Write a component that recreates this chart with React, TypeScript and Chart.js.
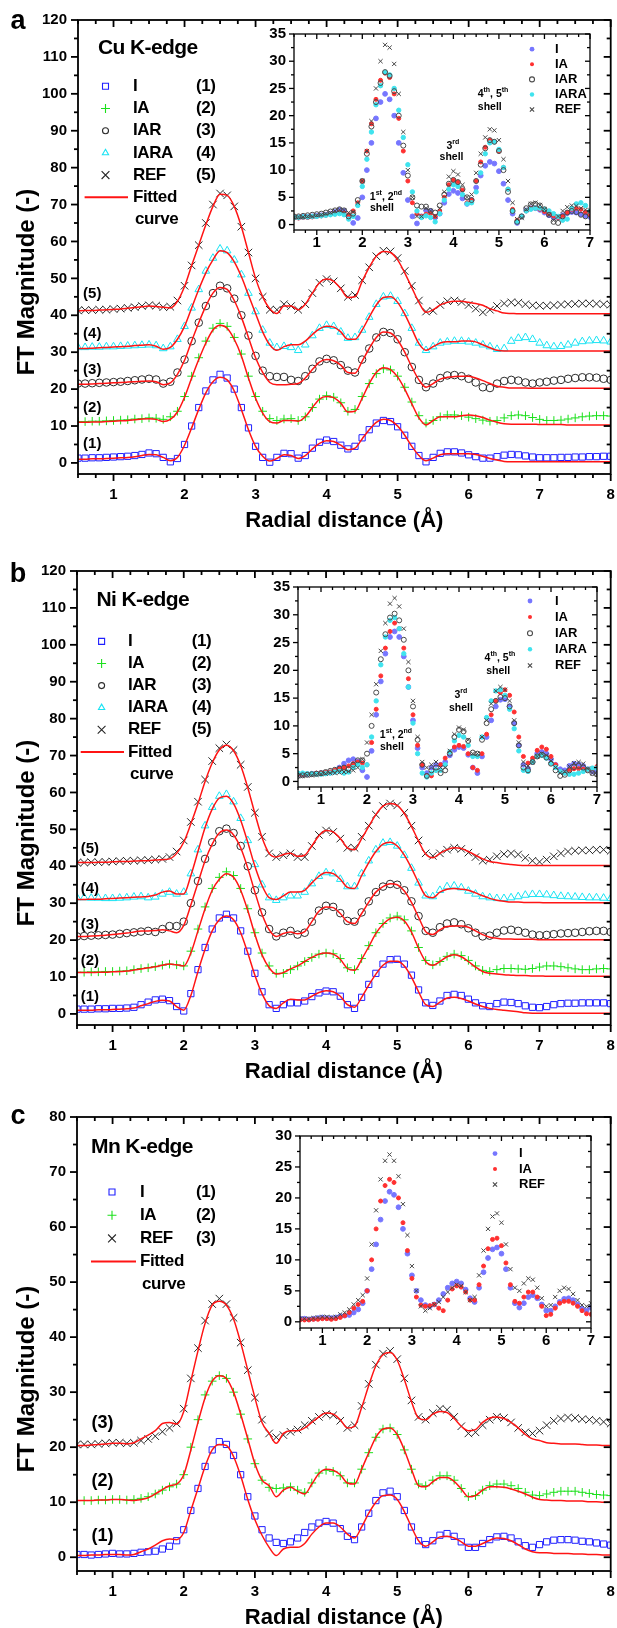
import React, { useEffect, useRef } from 'react';
import { Chart, registerables } from 'chart.js';
Chart.register(...registerables);

const FONT = '"Liberation Sans", Arial, Helvetica, sans-serif';

// ---------- data (x grid in Å) ----------
const X_GRID = [0.5,0.6,0.7,0.8,0.9,1.0,1.1,1.2,1.3,1.4,1.5,1.6,1.7,1.8,1.9,2.0,2.1,2.2,2.3,2.4,2.5,2.6,2.7,2.8,2.9,3.0,3.1,3.2,3.3,3.4,3.5,3.6,3.7,3.8,3.9,4.0,4.1,4.2,4.3,4.4,4.5,4.6,4.7,4.8,4.9,5.0,5.1,5.2,5.3,5.4,5.5,5.6,5.7,5.8,5.9,6.0,6.1,6.2,6.3,6.4,6.5,6.6,6.7,6.8,6.9,7.0,7.1,7.2,7.3,7.4,7.5,7.6,7.7,7.8,7.9,8.0];

// Cu K-edge
const CU_I = [1.3,1.3,1.4,1.4,1.5,1.6,1.7,1.8,2.0,2.3, 2.7,2.5,1.5,0.3,1.2,5.0,10.0,15.0,19.5,22.5, 24.0,23.0,20.0,15.0,9.5,4.5,1.5,0.2,1.5,2.6, 2.5,1.3,2.0,4.0,5.6,6.2,5.8,4.8,3.8,4.5, 6.8,9.0,10.8,11.5,11.2,9.8,7.5,4.5,2.0,0.3, 1.5,2.6,3.0,3.0,2.7,2.2,1.7,1.3,1.3,1.7, 2.1,2.3,2.2,1.9,1.6,1.4,1.4,1.4,1.5,1.5, 1.6,1.6,1.7,1.7,1.8,1.8];
const CU_I_FIT = [1.0,1.0,1.1,1.1,1.2,1.3,1.4,1.5,1.7,2.0, 2.3,2.2,1.5,0.6,1.5,4.8,9.5,14.5,19.0,22.0, 23.2,22.5,19.5,14.5,9.0,4.5,1.8,0.5,1.2,2.2, 2.0,1.2,2.0,3.8,5.3,6.0,5.8,4.8,3.6,4.0, 6.5,9.0,11.0,11.8,11.5,10.0,7.5,4.5,2.0,0.6, 1.3,2.2,2.5,2.5,2.5,2.5,2.3,1.8,1.2,0.8, 0.4,0.3,0.3,0.3,0.3,0.3,0.3,0.3,0.3,0.3, 0.3,0.3,0.3,0.3,0.3,0.3];
const CU_IA = [1.2,1.2,1.3,1.3,1.4,1.5,1.6,1.7,1.9,2.0, 2.2,2.1,1.8,2.5,4.0,8.0,13.5,18.5,23.0,26.5, 27.8,27.0,24.0,19.5,13.5,8.0,4.0,2.0,1.5,1.9, 2.0,1.5,2.5,5.0,7.3,8.2,7.8,6.3,4.0,4.5, 8.0,11.5,14.2,15.5,15.2,13.5,10.5,6.5,2.8,0.8, 1.5,2.5,3.0,3.0,2.8,2.4,2.0,1.6,1.3,1.5, 2.2,2.8,3.0,2.8,2.3,1.8,1.5,1.5,1.6,1.9, 2.2,2.5,2.7,2.8,2.8,2.7];
const CU_IA_FIT = [1.0,1.0,1.1,1.1,1.2,1.3,1.4,1.5,1.7,1.9, 2.0,1.8,1.2,1.8,3.8,7.8,13.0,18.0,22.5,26.0, 27.3,26.5,23.5,19.0,13.0,7.5,3.5,1.2,0.8,1.5, 1.5,1.3,2.5,5.0,7.3,8.0,7.7,6.2,3.8,4.0, 7.5,11.5,14.5,15.8,15.3,13.3,10.0,6.0,2.2,0.3, 1.5,2.5,2.5,2.5,2.8,3.0,2.8,2.3,1.6,1.0, 0.6,0.5,0.5,0.5,0.5,0.4,0.4,0.4,0.4,0.3, 0.3,0.3,0.3,0.3,0.3,0.3];
const CU_IAR = [1.5,1.5,1.6,1.7,1.8,1.9,2.0,2.2,2.4,2.6, 2.8,2.6,1.5,2.0,4.5,8.0,13.0,18.0,22.5,26.0, 28.0,27.3,24.5,20.0,14.5,9.0,5.0,3.5,3.3,3.3, 2.5,2.2,3.5,5.5,7.5,8.2,7.8,6.5,5.0,4.5, 8.0,11.0,14.0,15.5,15.2,13.5,10.0,6.0,2.5,0.5, 1.5,3.0,3.7,3.8,3.5,2.8,1.8,0.5,0.3,1.5, 2.2,2.5,2.3,1.8,1.5,1.8,2.0,2.3,2.5,2.8, 3.0,3.2,3.2,3.1,2.8,2.5];
const CU_IAR_FIT = [1.3,1.3,1.4,1.5,1.6,1.7,1.8,1.9,2.0,2.1, 2.2,2.0,1.2,1.7,4.0,7.8,13.0,18.0,22.5,26.0, 27.5,27.0,24.0,19.5,14.0,8.5,4.5,1.8,1.2,1.2, 1.3,1.5,3.0,5.3,7.3,8.0,7.7,6.5,4.5,4.3, 7.5,11.0,14.0,15.5,15.2,13.3,10.0,6.0,2.5,0.5, 1.5,2.7,3.2,3.4,3.5,3.5,3.0,2.3,1.5,0.8, 0.5,0.3,0.3,0.3,0.2,0.2,0.2,0.2,0.2,0.2, 0.2,0.2,0.2,0.2,0.2,0.2];
const CU_IARA = [1.3,1.3,1.4,1.4,1.5,1.5,1.6,1.7,1.8,1.9, 2.0,1.8,1.0,1.5,3.5,7.0,12.0,17.0,22.0,25.5, 28.0,27.5,25.0,21.0,16.0,11.0,6.0,2.5,1.3,1.6, 1.3,0.5,2.0,4.5,6.5,7.3,7.0,5.5,3.8,4.0, 6.0,9.5,13.0,15.0,15.2,13.8,10.5,6.5,2.5,0.5, 1.5,2.5,2.8,3.0,3.0,2.8,2.5,2.0,1.5,0.8, 1.0,3.0,3.8,4.0,3.5,2.5,1.8,1.5,1.6,2.0, 2.5,2.9,3.1,3.2,3.1,2.8];
const CU_IARA_FIT = [1.0,1.0,1.1,1.2,1.3,1.4,1.5,1.6,1.8,1.9, 2.0,1.6,0.8,1.3,3.5,7.0,12.0,17.0,21.5,25.0, 27.5,27.0,24.5,20.5,15.5,10.5,5.5,2.0,0.5,1.5, 2.0,2.0,3.0,4.8,6.3,7.0,6.8,5.5,3.5,3.5, 6.0,9.5,12.8,14.8,15.0,13.5,10.3,6.3,2.3,0.5, 1.5,2.5,2.8,2.8,3.0,3.0,2.8,2.0,1.2,0.5, 0.3,0.3,0.3,0.3,0.3,0.3,0.3,0.3,0.3,0.3, 0.3,0.3,0.3,0.3,0.3,0.3];
const CU_REF = [1.3,1.4,1.4,1.5,1.5,1.7,1.8,2.0,2.2,2.5, 2.7,2.6,2.2,2.3,4.0,8.0,13.5,19.0,25.0,30.0, 33.0,32.5,29.5,24.0,17.0,10.0,5.0,1.5,1.5,3.0, 2.5,1.5,3.0,6.0,8.8,9.8,9.2,7.3,5.0,5.5, 9.5,13.0,16.0,17.5,17.3,15.5,12.0,8.0,4.0,1.0, 1.2,2.8,3.8,4.0,3.6,2.8,1.8,0.8,1.5,2.5, 3.2,3.5,3.4,3.0,2.7,2.6,2.6,2.7,2.9,3.0, 3.1,3.2,3.2,3.1,3.0,2.9];
const CU_REF_FIT = [1.2,1.3,1.3,1.4,1.5,1.6,1.7,1.9,2.1,2.3, 2.5,2.4,2.2,2.0,3.8,7.8,13.5,19.0,24.5,29.5, 32.8,32.5,29.5,24.0,17.0,10.0,5.0,1.8,0.5,2.5, 2.5,1.5,3.0,6.0,8.8,9.8,9.2,7.2,4.8,5.0, 9.2,13.0,16.0,17.3,17.0,15.0,11.5,7.5,3.5,0.8, 1.5,2.8,3.5,3.8,3.8,3.5,3.2,2.7,1.8,1.2, 0.6,0.5,0.4,0.4,0.4,0.4,0.4,0.4,0.4,0.4, 0.4,0.4,0.4,0.4,0.4,0.4];

// Ni K-edge
const NI_I = [1.3,1.3,1.3,1.4,1.4,1.5,1.5,1.6,1.8,2.5, 3.2,3.8,4.0,3.6,2.0,0.8,5.5,12.0,18.0,23.0, 26.0,27.0,26.0,22.5,17.0,11.0,6.0,2.5,1.5,2.5, 3.0,3.0,3.5,4.7,5.7,6.2,6.0,4.8,2.5,1.5, 4.5,8.0,11.0,13.5,14.7,14.8,13.5,10.5,6.5,3.0, 2.3,3.5,5.0,5.3,5.0,4.0,3.0,2.2,2.0,2.8, 3.2,3.1,2.8,2.2,1.8,1.7,2.0,2.5,2.8,2.9, 2.9,3.0,3.0,3.0,3.0,2.8];
const NI_I_FIT = [1.0,1.0,1.0,1.1,1.1,1.2,1.3,1.4,1.6,2.2, 2.8,3.4,3.7,3.5,2.0,1.0,5.0,11.5,17.5,22.5, 25.5,26.5,25.5,22.0,16.5,10.5,5.5,2.2,1.5,3.0, 4.0,3.8,3.8,4.8,5.8,6.3,6.0,4.8,2.5,1.8, 4.5,7.8,10.8,13.2,14.3,14.3,13.0,10.0,6.0,2.5, 2.0,3.2,4.3,4.5,4.2,3.5,2.7,2.0,1.5,1.2, 1.0,0.8,0.6,0.3,0.2,0.2,0.2,0.2,0.2,0.2, 0.2,0.2,0.2,0.2,0.2,0.2];
const NI_IA = [1.3,1.3,1.4,1.4,1.5,1.5,1.6,1.7,2.0,2.3, 2.5,2.8,3.2,3.5,3.3,3.0,7.0,13.0,19.0,24.0, 27.0,28.5,27.5,24.0,18.5,12.0,6.5,3.0,1.0,1.0, 2.0,3.0,4.2,5.3,6.2,6.5,6.3,5.0,2.5,2.0, 5.0,8.5,12.0,14.5,16.0,16.5,15.5,12.5,8.0,4.5, 3.3,4.2,5.6,6.2,5.8,4.5,3.0,1.8,1.5,2.0, 2.3,2.3,2.2,2.1,2.3,2.7,3.0,3.0,2.8,2.5, 2.2,2.0,2.0,2.2,2.3,2.2];
const NI_IA_FIT = [1.2,1.2,1.2,1.3,1.3,1.4,1.5,1.6,1.9,2.2, 2.5,2.8,3.2,3.5,3.3,3.0,6.5,12.5,18.5,23.5, 26.5,28.0,27.0,23.5,18.0,11.5,6.0,2.5,0.8,1.2, 2.2,3.0,4.2,5.3,6.2,6.5,6.2,4.8,2.3,1.8, 4.8,8.2,11.8,14.3,15.8,16.2,15.2,12.2,7.8,4.2, 3.2,4.2,5.5,6.0,5.5,4.2,2.7,1.5,1.0,0.8, 0.6,0.5,0.4,0.4,0.3,0.3,0.2,0.2,0.2,0.2, 0.2,0.2,0.2,0.2,0.2,0.2];
const NI_IAR = [1.0,1.1,1.2,1.3,1.4,1.5,1.7,1.9,2.1,2.3, 2.5,2.2,3.0,3.8,3.8,5.0,10.0,16.0,22.0,26.5, 29.5,30.2,29.0,25.5,20.0,13.5,7.5,3.0,1.0,2.0, 2.5,1.5,2.0,5.0,8.0,9.3,9.0,7.3,5.2,5.0, 7.5,10.5,13.0,14.5,15.2,15.0,13.5,10.5,6.5,2.5, 2.0,3.5,4.5,4.8,4.3,3.2,2.0,1.0,1.2,2.0, 2.6,2.8,2.5,2.0,1.5,1.3,1.4,1.6,1.8,1.9, 2.0,2.2,2.4,2.5,2.5,2.2];
const NI_IAR_FIT = [1.0,1.0,1.1,1.2,1.3,1.5,1.7,1.9,2.2,2.5, 2.5,2.6,2.8,2.5,2.0,4.0,9.5,15.5,21.5,26.0, 29.0,29.8,28.5,25.0,19.5,13.0,7.0,2.8,1.0,1.8, 2.2,1.7,2.3,5.0,7.8,9.0,8.8,7.2,5.0,4.5, 7.2,10.3,13.0,14.5,15.3,15.0,13.3,10.2,6.2,2.3, 1.5,2.8,3.7,3.8,3.8,3.5,2.5,1.5,0.8,0.5, 0.3,0.3,0.2,0.2,0.2,0.1,0.1,0.1,0.1,0.1, 0.1,0.1,0.1,0.1,0.1,0.1];
const NI_IARA = [1.5,1.5,1.4,1.4,1.3,1.3,1.4,1.5,1.7,1.8, 1.5,1.7,2.5,3.0,2.5,3.0,8.0,14.5,21.0,26.0, 29.0,29.5,27.5,23.0,17.0,10.5,5.0,1.5,0.8,1.5, 2.0,2.0,3.0,5.3,7.3,8.3,8.0,6.5,4.5,4.5, 8.0,11.5,14.5,16.3,16.5,15.5,13.0,9.5,5.5,2.0, 1.8,3.5,4.5,4.7,4.2,3.3,2.5,1.8,1.5,1.3, 1.3,1.5,1.8,2.2,2.4,2.4,2.3,2.1,1.9,1.8, 1.7,1.6,1.5,1.5,1.4,1.3];
const NI_IARA_FIT = [1.0,1.0,1.1,1.1,1.2,1.3,1.4,1.5,1.6,1.7, 1.8,2.2,3.0,3.3,2.5,2.5,7.5,14.0,20.5,25.5, 28.5,29.0,27.0,22.5,16.5,10.0,4.8,1.5,1.0,2.0, 3.0,3.0,3.5,5.5,7.3,8.3,8.0,6.5,4.3,4.0, 7.5,11.0,14.0,16.0,16.5,15.5,13.0,9.5,5.5,2.0, 1.5,3.0,3.8,4.0,3.8,3.5,2.8,2.0,1.3,0.8, 0.5,0.3,0.3,0.2,0.2,0.2,0.1,0.1,0.1,0.1, 0.1,0.1,0.1,0.1,0.1,0.1];
const NI_REF = [1.0,1.0,1.1,1.1,1.2,1.3,1.4,1.5,1.5,1.6, 1.7,1.8,2.0,2.5,4.0,7.0,12.0,17.5,23.5,28.5, 32.0,33.0,31.5,27.5,21.5,14.5,8.0,3.5,2.5,3.0, 3.5,2.5,2.5,5.5,8.5,9.7,9.3,7.5,5.0,5.0, 8.0,11.0,14.0,16.3,17.0,16.5,14.5,11.0,7.0,3.5, 2.8,3.5,4.5,5.0,4.7,3.7,2.5,1.5,1.8,2.7, 3.3,3.5,3.2,2.3,1.5,1.2,1.8,2.7,3.5,4.0, 4.2,4.3,4.3,4.5,4.5,4.2];
const NI_REF_FIT = [1.0,1.0,1.0,1.1,1.1,1.2,1.3,1.3,1.4,1.5, 1.5,1.7,1.8,2.0,3.5,6.5,11.5,17.0,23.0,28.0, 31.5,32.8,31.3,27.3,21.3,14.3,7.8,3.5,2.5,3.2, 3.5,2.7,3.0,5.5,8.3,9.7,9.3,7.5,5.0,4.5, 7.5,10.8,14.0,16.3,17.0,16.5,14.3,10.8,6.8,3.3, 2.3,3.5,4.5,5.0,4.8,4.0,3.0,2.0,1.3,1.0, 0.7,0.5,0.3,0.2,0.2,0.2,0.2,0.2,0.2,0.2, 0.2,0.2,0.2,0.2,0.2,0.2];

// Mn K-edge
const MN_I = [0.5,0.5,0.4,0.5,0.6,0.7,0.6,0.6,0.7,0.9, 1.0,1.1,1.5,2.0,3.0,5.0,8.5,12.5,16.5,19.5, 21.0,20.5,18.5,15.0,11.0,7.5,5.0,3.5,2.7,2.5, 2.8,3.5,4.5,5.5,6.2,6.5,6.2,5.2,3.8,3.2, 5.5,8.0,10.3,11.7,12.0,11.0,8.5,5.5,3.0,2.3, 3.0,4.0,4.3,3.8,2.8,1.8,1.8,2.5,3.2,3.7, 3.8,3.5,2.8,2.1,1.8,2.3,2.8,3.1,3.2,3.2, 3.1,2.9,2.8,2.6,2.4,2.2];
const MN_I_FIT = [0.3,0.3,0.4,0.4,0.5,0.5,0.5,0.4,0.5,1.0, 1.5,2.2,3.0,3.3,3.2,4.5,8.5,12.5,16.5,19.5, 20.5,20.3,18.3,14.8,10.5,6.8,4.0,1.8,0.3,1.5, 1.8,1.8,2.5,4.2,5.5,6.2,6.2,5.5,4.2,3.5, 5.5,8.0,10.0,11.2,11.3,10.5,8.3,5.5,3.0,2.0, 2.8,3.7,3.8,3.5,2.8,2.0,2.0,2.5,3.1,3.5, 3.4,3.0,2.3,1.5,1.0,0.8,0.8,0.7,0.7,0.7, 0.6,0.6,0.5,0.5,0.4,0.4];
const MN_IA = [0.3,0.3,0.3,0.4,0.4,0.5,0.5,0.4,0.5,0.7, 1.0,1.5,2.2,2.8,3.3,5.0,10.0,15.0,19.5,22.0, 23.0,22.5,20.0,16.0,11.5,7.0,4.0,2.7,2.5,2.6, 2.8,2.2,1.8,3.5,5.3,5.8,5.6,4.8,3.5,3.5, 6.0,9.0,11.8,13.3,13.5,12.3,9.5,6.0,3.3,3.0, 4.0,4.8,4.8,4.0,2.5,1.0,1.2,2.2,3.0,3.3, 3.3,3.0,2.5,1.8,1.3,1.2,1.5,1.8,2.0,2.0, 2.0,1.8,1.6,1.4,1.3,1.2];
const MN_IA_FIT = [0.3,0.3,0.3,0.4,0.4,0.5,0.5,0.4,0.3,0.5, 0.8,1.5,2.3,3.0,3.3,5.0,9.5,14.5,19.0,22.0, 23.0,22.5,20.0,16.0,11.5,7.0,4.0,3.0,1.0,2.2, 2.7,2.0,1.5,3.3,5.2,6.0,5.8,5.0,3.5,3.3, 6.0,9.0,11.8,13.3,13.5,12.3,9.5,6.0,3.0,2.8, 3.7,4.5,4.5,3.8,2.4,1.0,1.2,2.2,2.8,2.8, 2.7,2.4,2.0,1.5,0.9,0.5,0.4,0.3,0.3,0.2, 0.2,0.2,0.1,0.1,0.0,0.0];
const MN_REF = [0.5,0.5,0.5,0.6,0.7,0.8,0.8,0.7,0.8,1.2, 1.5,2.0,2.8,3.5,4.3,7.0,12.5,18.0,23.0,26.0, 27.0,26.0,23.5,19.0,14.0,9.0,5.0,2.5,1.8,2.2, 2.8,3.2,4.0,4.8,5.5,6.0,5.8,4.8,3.5,4.0, 7.5,11.5,15.0,17.0,17.5,16.0,12.5,8.5,5.5,5.0, 6.2,7.0,6.8,5.5,3.8,2.5,2.7,4.0,5.0,5.5, 5.3,4.5,3.5,2.7,2.5,3.0,4.0,4.8,5.2,5.4, 5.3,5.1,5.0,4.8,4.6,4.3];
const MN_REF_FIT = [0.3,0.3,0.4,0.5,0.6,0.7,0.7,0.6,0.8,1.5, 2.2,3.0,4.3,4.5,4.2,6.5,12.0,17.5,22.5,25.8, 26.5,25.8,23.3,19.0,14.0,9.0,4.5,2.5,0.7,2.5, 3.0,3.0,3.5,4.5,5.5,6.2,6.0,5.0,3.5,3.8, 7.2,11.2,14.8,16.8,17.2,15.8,12.3,8.3,5.3,5.0, 6.0,6.5,6.3,5.2,3.8,3.0,3.2,4.5,5.3,5.5, 5.2,4.5,3.5,2.3,1.5,1.2,0.8,0.7,0.6,0.6, 0.6,0.5,0.4,0.4,0.3,0.3];

// labels, offsets and ticks
const SERIES_5 = ['I', 'IA', 'IAR', 'IARA', 'REF'];
const SERIES_3 = ['I', 'IA', 'REF'];
const NUMS_5 = ['(1)', '(2)', '(3)', '(4)', '(5)'];
const NUMS_3 = ['(1)', '(2)', '(3)'];
const OFFSETS_5 = [0, 10, 20, 30, 40];
const OFFSETS_3 = [0, 10, 20];
const X_TICKS = [1, 2, 3, 4, 5, 6, 7, 8];
const Y_TICKS_AB = [0, 10, 20, 30, 40, 50, 60, 70, 80, 90, 100, 110, 120];
const Y_TICKS_C = [0, 10, 20, 30, 40, 50, 60, 70, 80];
const INSET_X_TICKS = [1, 2, 3, 4, 5, 6, 7];
const INSET_Y_TICKS_AB = [0, 5, 10, 15, 20, 25, 30, 35];
const INSET_Y_TICKS_C = [0, 5, 10, 15, 20, 25, 30];
const X_TITLE = 'Radial distance (Å)';
const Y_TITLE = 'FT Magnitude (-)';
const FIT_LABEL = ['Fitted', 'curve'];

// ---------- styles ----------
const FIT_COLOR = '#ff1414';
const MAIN_STYLE: any = {
  I: { kind: 'rect', color: '#2020ff', r: 4.4, fill: false, lr: 3 },
  IA: { kind: 'cross', color: '#1be01b', r: 4.3, fill: false, lr: 4.5 },
  IAR: { kind: 'circle', color: '#2c2c2c', r: 3.8, fill: false, lr: 3 },
  IARA: { kind: 'triangle', color: '#19e3f3', r: 4.4, fill: false, lr: 3.6 },
  REF: { kind: 'crossRot', color: '#262626', r: 5.3, fill: false, lr: 5.5 },
};
const INSET_STYLE: any = {
  I: { kind: 'circle', color: '#7676ff', r: 2.4, fill: true, order: 4 },
  IA: { kind: 'circle', color: '#ff3030', r: 2.0, fill: true, order: 3 },
  IAR: { kind: 'circle', color: '#4a4a4a', r: 2.5, fill: false, order: 1 },
  IARA: { kind: 'circle', color: '#3fe3ee', r: 2.2, fill: true, order: 2 },
  REF: { kind: 'crossRot', color: '#474747', r: 3.0, fill: false, order: 0 },
};

// ---------- panel tables ----------
const MAIN_PANELS: any[] = [
  {
    id: 'a', canvas: { left: 0, top: 0, w: 617, h: 540 }, area: { L: 78, T: 20, R: 613, B: 474 },
    yMin: -3, yMax: 120, yTicks: Y_TICKS_AB, names: SERIES_5, nums: NUMS_5, offsets: OFFSETS_5,
    raw: [CU_I, CU_IA, CU_IAR, CU_IARA, CU_REF], fit: [CU_I_FIT, CU_IA_FIT, CU_IAR_FIT, CU_IARA_FIT, CU_REF_FIT],
    title: 'Cu K-edge', letterY: 22,
    legend: { titleDx: 20, titleDy: 28.5, markerDx: 27.5, textDx: 55, numDx: 118, row0: 66.3, rowStep: 22.2, lineX0: 6.6, lineX1: 50 },
    curveLabels: { x: 0.7, ys: [5.1, 14.8, 25.1, 35.1, 45.8], size: 15 },
  },
  {
    id: 'b', canvas: { left: 0, top: 540, w: 617, h: 545 }, area: { L: 77, T: 571, R: 612, B: 1025 },
    yMin: -3, yMax: 120, yTicks: Y_TICKS_AB, names: SERIES_5, nums: NUMS_5, offsets: OFFSETS_5,
    raw: [NI_I, NI_IA, NI_IAR, NI_IARA, NI_REF], fit: [NI_I_FIT, NI_IA_FIT, NI_IAR_FIT, NI_IARA_FIT, NI_REF_FIT],
    title: 'Ni K-edge', letterY: 575,
    legend: { titleDx: 19.5, titleDy: 29, markerDx: 24.6, textDx: 51, numDx: 114.7, row0: 70.4, rowStep: 22.1, lineX0: 3.7, lineX1: 47 },
    curveLabels: { x: 0.68, ys: [4.5, 14.3, 24.1, 34, 44.7], size: 15 },
  },
  {
    id: 'c', canvas: { left: 0, top: 1085, w: 617, h: 543 }, area: { L: 77, T: 1117, R: 612, B: 1571 },
    yMin: -2.5, yMax: 80, yTicks: Y_TICKS_C, names: SERIES_3, nums: NUMS_3, offsets: OFFSETS_3,
    raw: [MN_I, MN_IA, MN_REF], fit: [MN_I_FIT, MN_IA_FIT, MN_REF_FIT],
    title: 'Mn K-edge', letterY: 1117,
    legend: { titleDx: 14, titleDy: 30, markerDx: 35, textDx: 63, numDx: 119, row0: 75, rowStep: 23.2, lineX0: 14, lineX1: 59 },
    curveLabels: { x: 0.86, ys: [3.8, 13.9, 24.3], size: 18 },
  },
];

const INSET_PANELS: any[] = [
  {
    id: 'ia', canvas: { left: 240, top: 14, w: 377, h: 250 }, area: { L: 294, T: 34, R: 590, B: 230 },
    yMin: -1, yMax: 35, yTicks: INSET_Y_TICKS_AB, names: SERIES_5,
    raw: [CU_I, CU_IA, CU_IAR, CU_IARA, CU_REF],
    legend: { markerDx: 238, textDx: 261, row0: 15.2, rowStep: 15.1 },
    notes: [
      { x: 4.87, y: 23.9, t: '4^th^, 5^th^' }, { x: 4.8, y: 21.6, t: 'shell' },
      { x: 3.99, y: 14.5, t: '3^rd^' }, { x: 3.96, y: 12.4, t: 'shell' },
      { x: 2.52, y: 5.1, t: '1^st^, 2^nd^' }, { x: 2.43, y: 3.0, t: 'shell' },
    ],
  },
  {
    id: 'ib', canvas: { left: 240, top: 567, w: 377, h: 250 }, area: { L: 298, T: 587, R: 597, B: 787 },
    yMin: -1, yMax: 35, yTicks: INSET_Y_TICKS_AB, names: SERIES_5,
    raw: [NI_I, NI_IA, NI_IAR, NI_IARA, NI_REF],
    legend: { markerDx: 232, textDx: 257, row0: 14, rowStep: 16.1 },
    notes: [
      { x: 4.89, y: 22.25, t: '4^th^, 5^th^' }, { x: 4.85, y: 19.9, t: 'shell' },
      { x: 4.04, y: 15.5, t: '3^rd^' }, { x: 4.04, y: 13.2, t: 'shell' },
      { x: 2.63, y: 8.4, t: '1^st^, 2^nd^' }, { x: 2.54, y: 6.2, t: 'shell' },
    ],
  },
  {
    id: 'ic', canvas: { left: 240, top: 1116, w: 377, h: 240 }, area: { L: 300, T: 1136, R: 591, B: 1328 },
    yMin: -1, yMax: 30, yTicks: INSET_Y_TICKS_C, names: SERIES_3,
    raw: [MN_I, MN_IA, MN_REF],
    legend: { markerDx: 195, textDx: 219, row0: 17.6, rowStep: 15.4 },
    notes: [],
  },
];

// ---------- drawing helpers ----------
function drawMarker(ctx: any, kind: string, x: number, y: number, r: number, color: string, fill: boolean) {
  ctx.save();
  ctx.strokeStyle = color; ctx.fillStyle = color; ctx.lineWidth = 1.1;
  ctx.beginPath();
  if (kind === 'rect') ctx.rect(x - r, y - r, 2 * r, 2 * r);
  else if (kind === 'circle') ctx.arc(x, y, r, 0, Math.PI * 2);
  else if (kind === 'triangle') { ctx.moveTo(x, y - r); ctx.lineTo(x + r * 0.866, y + r * 0.5); ctx.lineTo(x - r * 0.866, y + r * 0.5); ctx.closePath(); }
  else if (kind === 'cross') { ctx.moveTo(x - r, y); ctx.lineTo(x + r, y); ctx.moveTo(x, y - r); ctx.lineTo(x, y + r); }
  else if (kind === 'crossRot') { const d = r * 0.707; ctx.moveTo(x - d, y - d); ctx.lineTo(x + d, y + d); ctx.moveTo(x - d, y + d); ctx.lineTo(x + d, y - d); }
  if (fill) ctx.fill(); else ctx.stroke();
  ctx.restore();
}

function drawRich(ctx: any, str: string, cx: number, cy: number, size: number) {
  const parts = str.split('^');
  const fN = `bold ${size}px ${FONT}`;
  const fS = `bold ${Math.round(size * 0.62)}px ${FONT}`;
  let w = 0;
  parts.forEach((p, i) => { ctx.font = i % 2 ? fS : fN; w += ctx.measureText(p).width; });
  let x = cx - w / 2;
  ctx.textAlign = 'left'; ctx.textBaseline = 'middle';
  parts.forEach((p, i) => {
    ctx.font = i % 2 ? fS : fN;
    ctx.fillText(p, x, i % 2 ? cy - size * 0.38 : cy);
    x += ctx.measureText(p).width;
  });
}

function setSpacing(ctx: any, v: string) { try { ctx.letterSpacing = v; } catch (e) { /* ignore */ } }

function axesPlugin(o: any) {
  return {
    id: 'axes_' + o.id,
    afterDraw(chart: any) {
      const ctx = chart.ctx; const a = chart.chartArea;
      const xs = chart.scales.x; const ys = chart.scales.y;
      ctx.save();
      ctx.strokeStyle = '#000'; ctx.fillStyle = '#000'; ctx.lineWidth = o.lw;
      ctx.strokeRect(a.left, a.top, a.right - a.left, a.bottom - a.top);
      const seg = (x1: number, y1: number, x2: number, y2: number) => { ctx.beginPath(); ctx.moveTo(x1, y1); ctx.lineTo(x2, y2); ctx.stroke(); };
      const near = (v: number, s: number) => Math.abs(v / s - Math.round(v / s)) < 1e-6;
      for (let k = Math.ceil(xs.min / o.xMinor - 1e-9); k * o.xMinor <= xs.max + 1e-9; k++) {
        const v = k * o.xMinor; const len = near(v, 1) ? o.maj : o.min; const px = xs.getPixelForValue(v);
        seg(px, a.bottom, px, a.bottom + len); seg(px, a.top, px, a.top + len);
      }
      for (let k = Math.ceil(ys.min / o.yMinor - 1e-9); k * o.yMinor <= ys.max + 1e-9; k++) {
        const v = k * o.yMinor; const len = near(v, o.yMajor) ? o.maj : o.min; const py = ys.getPixelForValue(v);
        seg(a.left, py, a.left - len, py); seg(a.right, py, a.right - len, py);
      }
      ctx.font = `bold ${o.tickFont}px ${FONT}`;
      ctx.textAlign = 'center'; ctx.textBaseline = 'middle';
      o.xTicks.forEach((v: number) => ctx.fillText(String(v), xs.getPixelForValue(v), a.bottom + o.xGap));
      ctx.textAlign = 'right';
      o.yTicks.forEach((v: number) => ctx.fillText(String(v), a.left - o.yGap, ys.getPixelForValue(v)));
      if (o.extra) o.extra(ctx, a, xs, ys);
      ctx.restore();
    },
  };
}

function mainConfig(p: any) {
  const c = p.canvas; const A = p.area;
  const datasets: any[] = [];
  p.fit.forEach((arr: number[], i: number) => datasets.push({
    data: X_GRID.map((x, j) => ({ x, y: arr[j] + p.offsets[i] })),
    showLine: true, borderColor: FIT_COLOR, borderWidth: 1.5, pointRadius: 0, cubicInterpolationMode: 'monotone', order: 0,
  }));
  p.raw.forEach((arr: number[], i: number) => {
    const s = MAIN_STYLE[p.names[i]];
    datasets.push({
      data: X_GRID.map((x, j) => ({ x, y: arr[j] + p.offsets[i] })),
      showLine: false, pointStyle: s.kind, pointRadius: s.r, pointBorderColor: s.color,
      pointBackgroundColor: 'rgba(0,0,0,0)', pointBorderWidth: 1, order: 1 + i,
    });
  });
  const L = p.legend;
  const extra = (ctx: any, a: any, xs: any, ys: any) => {
    ctx.fillStyle = '#000';
    // y title
    ctx.save();
    ctx.translate(27, a.top + 262); ctx.rotate(-Math.PI / 2);
    ctx.font = `bold 24px ${FONT}`; ctx.textAlign = 'center'; ctx.textBaseline = 'middle';
    ctx.fillText(Y_TITLE, 0, 0);
    ctx.restore();
    // x title
    ctx.font = `bold 22px ${FONT}`; ctx.textAlign = 'center'; ctx.textBaseline = 'middle';
    ctx.fillText(X_TITLE, (a.left + a.right) / 2, a.bottom + 47);
    // panel letter
    ctx.font = `bold 27px ${FONT}`; ctx.textAlign = 'center';
    ctx.fillText(p.id, 18, p.letterY - c.top);
    // element title
    setSpacing(ctx, '-0.6px');
    ctx.font = `bold 21px ${FONT}`; ctx.textAlign = 'left';
    ctx.fillText(p.title, a.left + L.titleDx, a.top + L.titleDy);
    // legend
    setSpacing(ctx, '-0.4px');
    ctx.font = `bold 17px ${FONT}`;
    p.names.forEach((n: string, i: number) => {
      const y = a.top + L.row0 + i * L.rowStep;
      const s = MAIN_STYLE[n];
      drawMarker(ctx, s.kind, a.left + L.markerDx, y, s.lr, s.color, false);
      ctx.fillStyle = '#000';
      ctx.fillText(n, a.left + L.textDx, y);
      ctx.fillText(p.nums[i], a.left + L.numDx, y);
    });
    const fy = a.top + L.row0 + p.names.length * L.rowStep;
    ctx.strokeStyle = FIT_COLOR; ctx.lineWidth = 2;
    ctx.beginPath(); ctx.moveTo(a.left + L.lineX0, fy); ctx.lineTo(a.left + L.lineX1, fy); ctx.stroke();
    ctx.fillText(FIT_LABEL[0], a.left + L.textDx, fy);
    ctx.fillText(FIT_LABEL[1], a.left + L.textDx + 2, fy + L.rowStep);
    // curve numbers
    setSpacing(ctx, '0px');
    ctx.font = `bold ${p.curveLabels.size}px ${FONT}`; ctx.textAlign = 'center';
    p.curveLabels.ys.forEach((v: number, i: number) => ctx.fillText(p.nums[i], xs.getPixelForValue(p.curveLabels.x), ys.getPixelForValue(v)));
  };
  return {
    type: 'scatter',
    data: { datasets },
    options: {
      responsive: false, animation: false, devicePixelRatio: 1, events: [],
      layout: { padding: { left: A.L - c.left, top: A.T - c.top, right: c.left + c.w - A.R, bottom: c.top + c.h - A.B } },
      scales: { x: { type: 'linear', min: 0.5, max: 8, display: false }, y: { type: 'linear', min: p.yMin, max: p.yMax, display: false } },
      plugins: { legend: { display: false }, tooltip: { enabled: false } },
    },
    plugins: [axesPlugin({ id: p.id, lw: 1.8, maj: 7, min: 4, xMinor: 0.25, yMinor: 5, yMajor: 10, tickFont: 15, xTicks: X_TICKS, yTicks: p.yTicks, xGap: 21, yGap: 11, extra })],
  };
}

function insetConfig(p: any) {
  const c = p.canvas; const A = p.area;
  const datasets: any[] = [];
  const n7 = X_GRID.filter((x) => x <= 7.0001).length;
  p.raw.forEach((arr: number[], i: number) => {
    const s = INSET_STYLE[p.names[i]];
    datasets.push({
      data: X_GRID.slice(0, n7).map((x, j) => ({ x, y: arr[j] })),
      showLine: false, pointStyle: s.kind, pointRadius: s.r, pointBorderColor: s.color,
      pointBackgroundColor: s.fill ? s.color : 'rgba(0,0,0,0)', pointBorderWidth: 1, order: s.order,
    });
  });
  const L = p.legend;
  const extra = (ctx: any, a: any, xs: any, ys: any) => {
    ctx.font = `bold 13px ${FONT}`; ctx.textAlign = 'left'; ctx.textBaseline = 'middle';
    p.names.forEach((n: string, i: number) => {
      const y = a.top + L.row0 + i * L.rowStep;
      const s = INSET_STYLE[n];
      drawMarker(ctx, s.kind, a.left + L.markerDx, y, s.r, s.color, s.fill);
      ctx.fillStyle = '#000';
      ctx.fillText(n, a.left + L.textDx, y);
    });
    ctx.fillStyle = '#000';
    p.notes.forEach((nt: any) => drawRich(ctx, nt.t, xs.getPixelForValue(nt.x), ys.getPixelForValue(nt.y), 10.5));
  };
  return {
    type: 'scatter',
    data: { datasets },
    options: {
      responsive: false, animation: false, devicePixelRatio: 1, events: [],
      layout: { padding: { left: A.L - c.left, top: A.T - c.top, right: c.left + c.w - A.R, bottom: c.top + c.h - A.B } },
      scales: { x: { type: 'linear', min: 0.5, max: 7, display: false }, y: { type: 'linear', min: p.yMin, max: p.yMax, display: false } },
      plugins: { legend: { display: false }, tooltip: { enabled: false } },
    },
    plugins: [axesPlugin({ id: p.id, lw: 1.3, maj: 5, min: 3, xMinor: 0.25, yMinor: 2.5, yMajor: 5, tickFont: 15, xTicks: INSET_X_TICKS, yTicks: p.yTicks, xGap: 13, yGap: 8, extra })],
  };
}

function ChartCanvas({ rect, make }: any) {
  const ref = useRef<HTMLCanvasElement>(null);
  useEffect(() => {
    const chart = new Chart(ref.current as any, make() as any);
    return () => chart.destroy();
  }, []);
  return (
    <canvas ref={ref} width={rect.w} height={rect.h}
      style={{ position: 'absolute', left: rect.left, top: rect.top, width: rect.w, height: rect.h }} />
  );
}

export default function App() {
  return (
    <div style={{ position: 'absolute', left: 0, top: 0, width: 617, height: 1628, background: '#fff', overflow: 'hidden' }}>
      {MAIN_PANELS.map((p) => <ChartCanvas key={p.id} rect={p.canvas} make={() => mainConfig(p)} />)}
      {INSET_PANELS.map((p) => <ChartCanvas key={p.id} rect={p.canvas} make={() => insetConfig(p)} />)}
    </div>
  );
}
